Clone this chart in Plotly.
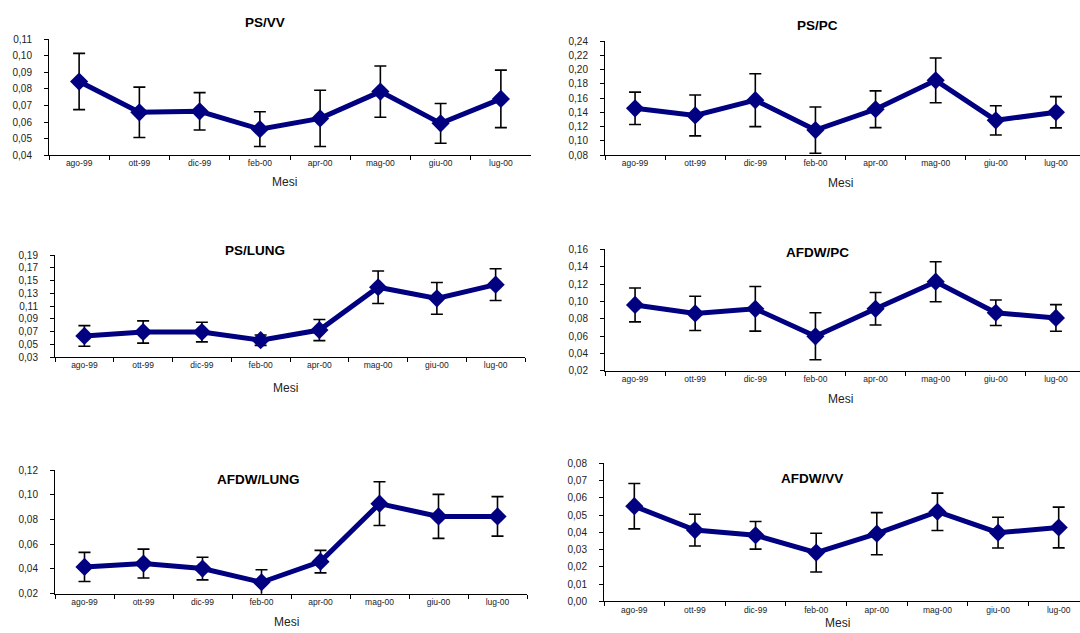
import plotly.graph_objects as go

W, H = 1080, 633

months = ["ago-99", "ott-99", "dic-99", "feb-00", "apr-00", "mag-00", "giu-00", "lug-00"]

ps_vv = [0.0845, 0.0659, 0.0665, 0.0557, 0.0622, 0.0784, 0.0592, 0.0740]
ps_vv_err = [0.0170, 0.0152, 0.0113, 0.0105, 0.0170, 0.0155, 0.0120, 0.0174]

ps_pc = [0.1458, 0.1358, 0.1573, 0.1152, 0.1445, 0.1851, 0.1289, 0.1403]
ps_pc_err = [0.0228, 0.0288, 0.0372, 0.0325, 0.0258, 0.0315, 0.0206, 0.0220]

ps_lung = [0.0633, 0.0695, 0.0695, 0.0567, 0.0726, 0.1397, 0.1223, 0.1438]
ps_lung_err = [0.0162, 0.0174, 0.0154, 0.0082, 0.0166, 0.0254, 0.0249, 0.0249]

afdw_pc = [0.0960, 0.0862, 0.0915, 0.0599, 0.0915, 0.1227, 0.0870, 0.0810]
afdw_pc_err = [0.0195, 0.0197, 0.0257, 0.0270, 0.0187, 0.0230, 0.0147, 0.0153]

afdw_lung = [0.0416, 0.0443, 0.0403, 0.0292, 0.0459, 0.0928, 0.0825, 0.0825]
afdw_lung_err = [0.0118, 0.0117, 0.0092, 0.0101, 0.0091, 0.0177, 0.0178, 0.0160]

afdw_vv = [0.0551, 0.0413, 0.0383, 0.0283, 0.0392, 0.0519, 0.0398, 0.0428]
afdw_vv_err = [0.0131, 0.0092, 0.0080, 0.0112, 0.0122, 0.0108, 0.0089, 0.0118]

titles = ["PS/VV", "PS/PC", "PS/LUNG", "AFDW/PC", "AFDW/LUNG", "AFDW/VV"]
series = [ps_vv, ps_pc, ps_lung, afdw_pc, afdw_lung, afdw_vv]
errors = [ps_vv_err, ps_pc_err, ps_lung_err, afdw_pc_err, afdw_lung_err, afdw_vv_err]
y_ranges = [(0.04, 0.11), (0.08, 0.24), (0.03, 0.19), (0.02, 0.16), (0.02, 0.12), (0.00, 0.08)]
y_dticks = [0.01, 0.02, 0.02, 0.02, 0.02, 0.01]

# layout boxes in pixels: (left, full right incl. off-canvas part, top, bottom)
boxes = [
    (49, 531, 34, 152),
    (605, 1086, 36, 152),
    (55, 525, 254, 358),
    (605, 1086, 248, 372),
    (55, 527, 473, 599),
    (604, 1089, 466, 607),
]
# title positions (x center, y center) in px
title_pos = [(265, 17), (817, 20), (255, 249), (817, 251), (258, 483), (812, 482)]
mesi_pos = [(284, 179), (840, 180), (285, 389), (840, 401), (286, 628), (837, 629)]

NAVY = "#000080"
FONT = "Liberation Sans, Arial, sans-serif"

fig = go.Figure()
layout = dict(
    width=W, height=H, autosize=False,
    margin=dict(l=0, r=0, t=0, b=0),
    paper_bgcolor="white", plot_bgcolor="white",
    showlegend=False, separators=",.",
    font=dict(family=FONT, color="black"),
)
annotations = []
for i in range(6):
    n = "" if i == 0 else str(i + 1)
    l, r, t, b = boxes[i]
    # plot area may extend beyond the canvas on the right: clip domain, trim range
    r_vis = min(r, W)
    cat_w = (r - l) / 8.0
    x_end = -0.5 + (r_vis - l) / cat_w
    fig.add_trace(go.Scatter(
        x=months, y=series[i], mode="lines+markers",
        xaxis="x" + n, yaxis="y" + n,
        line=dict(color=NAVY, width=5),
        marker=dict(symbol="diamond", size=14, color=NAVY),
        error_y=dict(type="data", array=errors[i], visible=True,
                     color="black", thickness=1.6, width=6),
        cliponaxis=False,
    ))
    layout["xaxis" + n] = dict(
        domain=[l / W, r_vis / W], anchor="y" + n, type="category",
        categoryorder="array", categoryarray=months,
        range=[-0.5, x_end], tickson="boundaries", ticks="outside",
        ticklen=4, tickcolor="black", showline=True, linecolor="black",
        linewidth=1, showgrid=False, zeroline=False,
        tickfont=dict(size=8.5, color="#222222", family=FONT),
    )
    layout["yaxis" + n] = dict(
        domain=[1 - b / H, 1 - t / H], anchor="x" + n,
        range=list(y_ranges[i]), dtick=y_dticks[i], tick0=y_ranges[i][0],
        tickformat=".2f", ticks="outside", ticklen=4, tickcolor="black",
        showline=True, linecolor="black", linewidth=1, showgrid=False,
        zeroline=False, ticklabelstandoff=10,
        tickfont=dict(size=10, color="#222222", family=FONT),
    )
    tx, ty = title_pos[i]
    annotations.append(dict(
        text="<b>" + titles[i] + "</b>", x=tx / W, y=1 - ty / H,
        xref="paper", yref="paper", showarrow=False,
        xanchor="center", yanchor="middle",
        font=dict(size=13.5, family=FONT, color="black"),
    ))
    mx, my = mesi_pos[i]
    annotations.append(dict(
        text="Mesi", x=mx / W, y=1 - my / H,
        xref="paper", yref="paper", showarrow=False,
        xanchor="center", yanchor="middle",
        font=dict(size=12, family=FONT, color="#222222"),
    ))
layout["annotations"] = annotations
fig.update_layout(**layout)
fig.write_html("out.html")
